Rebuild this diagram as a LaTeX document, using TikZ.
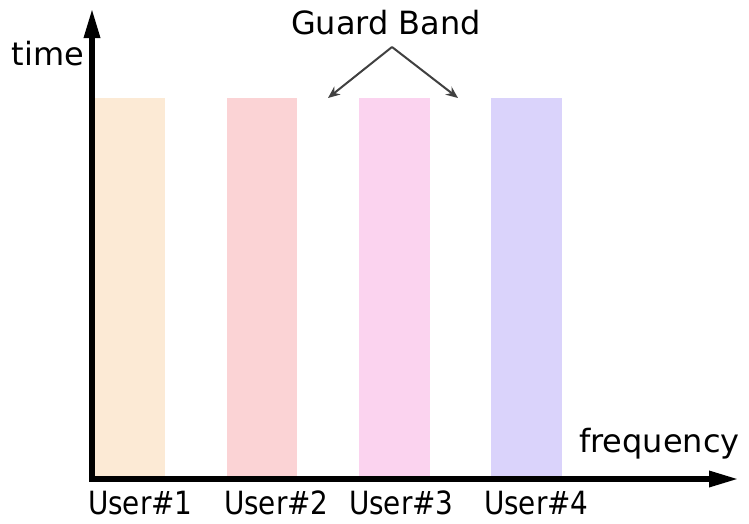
\documentclass[tikz,border=0pt]{standalone}
\usepackage{fontspec}
\setmainfont{DejaVu Sans}
\usetikzlibrary{arrows.meta}
\definecolor{cOne}{HTML}{FCEAD5}
\definecolor{cTwo}{HTML}{FBD3D5}
\definecolor{cThree}{HTML}{FBD3EF}
\definecolor{cFour}{HTML}{DAD3FB}
\definecolor{gbline}{HTML}{404040}
\begin{document}
\begin{tikzpicture}[x=1pt,y=-1pt,
  bar/.style={draw=none,inner sep=0pt,outer sep=0pt,minimum width=70pt,minimum height=381pt,anchor=south west},
  lbl/.style={inner sep=0pt,outer sep=0pt,anchor=base west,font=\fontsize{32}{36}\selectfont},
  axis/.style={line width=6pt,line join=miter,{Triangle[length=30pt,width=15pt]}-{Triangle[length=30pt,width=15pt]}},
  gb/.style={line width=2pt,draw=gbline,-{Stealth[length=12pt,width=10pt]}}]
\useasboundingbox (0,0) rectangle (749,523);
% bars
\node[bar,fill=cOne] (b1) at (95,479) {};
\node[bar,fill=cTwo] (b2) at (227,479) {};
\node[bar,fill=cThree,minimum width=71pt] (b3) at (359,479) {};
\node[bar,fill=cFour,minimum width=71pt] (b4) at (491,479) {};
% axes
\coordinate (top) at (92,8);
\coordinate (origin) at (92,479);
\coordinate (right) at (739,479);
\draw[axis] (top) -- (origin) -- (right);
% labels
\node[lbl] (time) at (12,65) {time};
\node[lbl] (freq) at (579,452) {frequency};
\node[lbl] (guard) at (291,34) {Guard Band};
\node[lbl] (u1) at (88,514) {\scalebox{0.87}[1]{User\#1}};
\node[lbl] (u2) at (224,514) {\scalebox{0.87}[1]{User\#2}};
\node[lbl] (u3) at (349,514) {\scalebox{0.87}[1]{User\#3}};
\node[lbl] (u4) at (484,514) {\scalebox{0.87}[1]{User\#4}};
% guard band arrows
\coordinate (apex) at (392,47);
\coordinate (gl) at (328,98);
\coordinate (gr) at (458,98);
\draw[gb] (apex) -- (gl);
\draw[gb] (apex) -- (gr);
\end{tikzpicture}
\end{document}
